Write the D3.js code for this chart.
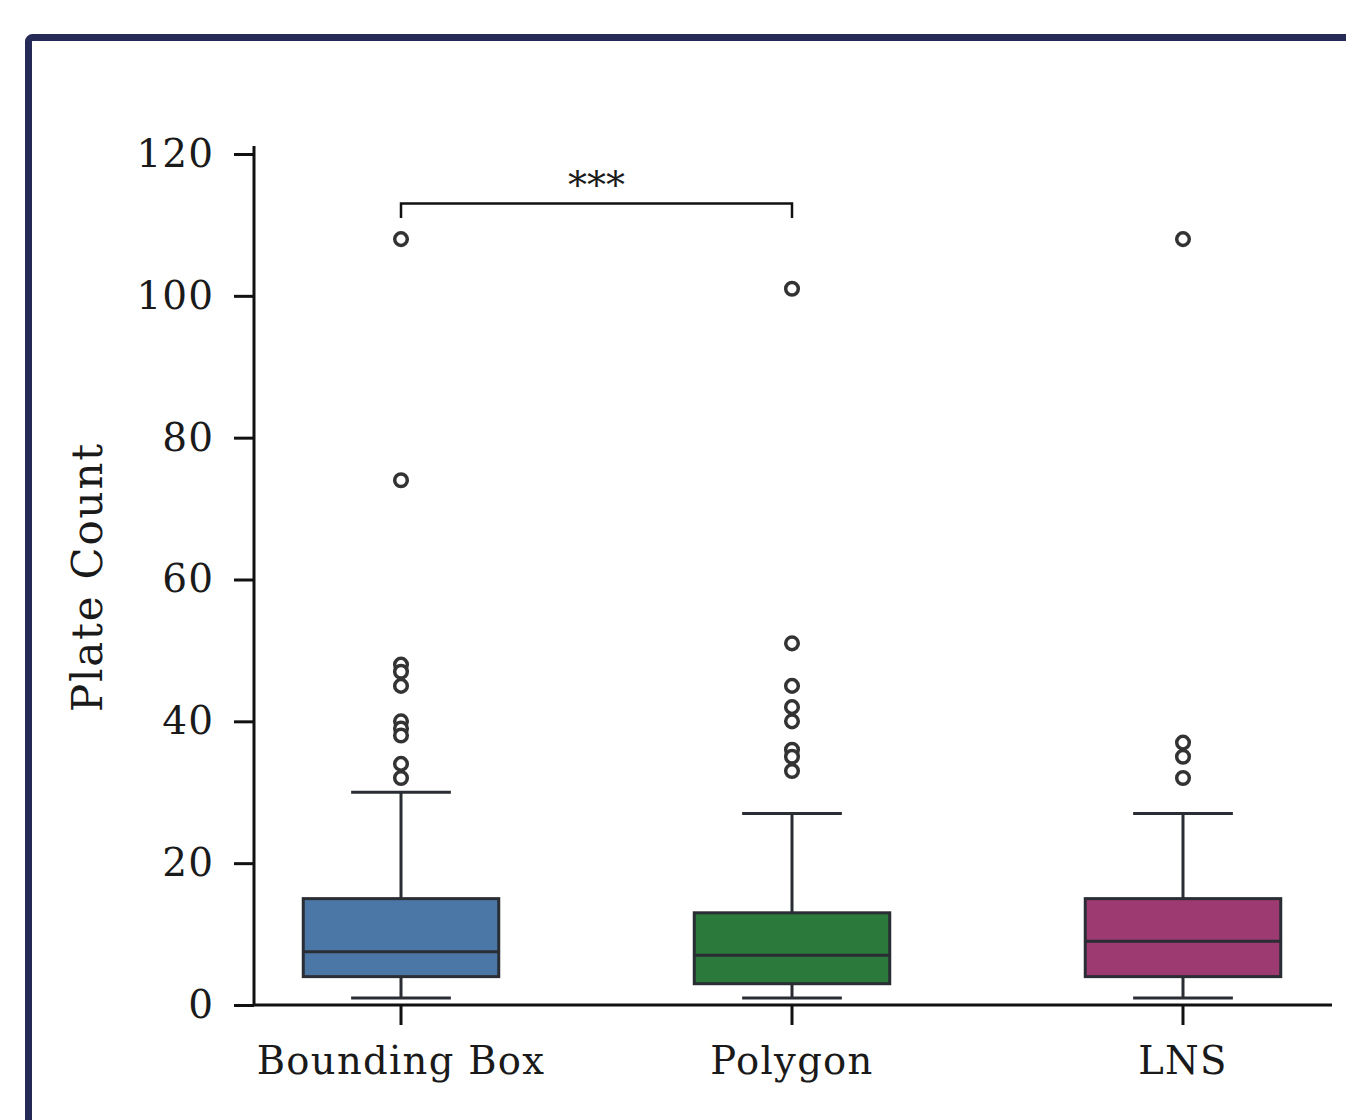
<!DOCTYPE html>
<html>
<head>
<meta charset="utf-8">
<script src="https://cdn.jsdelivr.net/npm/d3@7"></script>
<style>
  body { margin: 0; background: #fff; }
  svg { display: block; }
  text { font-family: "DejaVu Serif", serif; fill: #1a1a1a; }
</style>
</head>
<body>
<svg width="1346" height="1120"></svg>
<script>
var categories = ["Bounding Box", "Polygon", "LNS"];
var colors = ["#4b77a6", "#2b7a3b", "#9c3a71"];
var q1 = [4, 3, 4];
var median = [7.5, 7, 9];
var q3 = [15, 13, 15];
var whiskerLow = [1, 1, 1];
var whiskerHigh = [30, 27, 27];
var outliers = [
    [108, 74, 48, 47, 45, 40, 39, 38, 34, 32],
    [101, 51, 45, 42, 40, 36, 35, 33],
    [108, 37, 35, 32]
];
var yTicks = [0, 20, 40, 60, 80, 100, 120];

var svg = d3.select("svg"),
    width = +svg.attr("width"),
    height = +svg.attr("height");

// outer frame
svg.append("rect")
    .attr("x", 28.5).attr("y", 37.5)
    .attr("width", 1400).attr("height", 1200)
    .attr("rx", 4)
    .attr("fill", "none")
    .attr("stroke", "#262a56")
    .attr("stroke-width", 7);

var y = d3.scaleLinear().domain([0, 120]).range([1005, 154]);
var x = d3.scaleBand().domain(categories).range([205.5, 1378.5]);
var boxW = x.bandwidth() * 0.5;
var capW = boxW / 2;

var ink = "#2a2d33";

// y axis
var yAxis = svg.append("g")
    .attr("transform", "translate(254,0)")
    .call(d3.axisLeft(y).tickValues(yTicks).tickSize(20).tickPadding(20).tickSizeOuter(0));
yAxis.select(".domain").attr("stroke", "#111").attr("stroke-width", 3)
    .attr("d", "M0," + y(0) + "V" + (y(120) - 8));
yAxis.selectAll(".tick line").attr("stroke", "#111").attr("stroke-width", 3);
yAxis.selectAll(".tick text").style("font-family", "DejaVu Serif").style("font-size", "39px")
    .style("letter-spacing", "1px").attr("fill", "#222");

// x axis
var xAxis = svg.append("g")
    .attr("transform", "translate(0," + y(0) + ")")
    .call(d3.axisBottom(x).tickSize(20).tickPadding(22).tickSizeOuter(0));
xAxis.select(".domain").remove();
xAxis.append("line").attr("x1", 254).attr("x2", 1332)
    .attr("stroke", "#111").attr("stroke-width", 3);
xAxis.selectAll(".tick line").attr("stroke", "#111").attr("stroke-width", 3);
xAxis.selectAll(".tick text").style("font-family", "DejaVu Serif").style("font-size", "38.5px")
    .style("letter-spacing", "1.3px").attr("fill", "#222");

// y label
svg.append("text")
    .attr("transform", "translate(102,577) rotate(-90)")
    .attr("text-anchor", "middle")
    .style("font-size", "42px")
    .style("letter-spacing", "1.8px")
    .attr("fill", "#222")
    .text("Plate Count");

// boxes
var g = svg.append("g");
categories.forEach(function (c, i) {
    var cx = x(c) + x.bandwidth() / 2;
    // whiskers
    g.append("line").attr("x1", cx).attr("x2", cx)
        .attr("y1", y(q3[i])).attr("y2", y(whiskerHigh[i]))
        .attr("stroke", ink).attr("stroke-width", 3);
    g.append("line").attr("x1", cx).attr("x2", cx)
        .attr("y1", y(q1[i])).attr("y2", y(whiskerLow[i]))
        .attr("stroke", ink).attr("stroke-width", 3);
    [whiskerLow[i], whiskerHigh[i]].forEach(function (v) {
        g.append("line").attr("x1", cx - capW / 2 - 1).attr("x2", cx + capW / 2 + 1)
            .attr("y1", y(v)).attr("y2", y(v))
            .attr("stroke", ink).attr("stroke-width", 3);
    });
    // box
    g.append("rect")
        .attr("x", cx - boxW / 2).attr("width", boxW)
        .attr("y", y(q3[i])).attr("height", y(q1[i]) - y(q3[i]))
        .attr("fill", colors[i])
        .attr("stroke", ink).attr("stroke-width", 3);
    g.append("line").attr("x1", cx - boxW / 2).attr("x2", cx + boxW / 2)
        .attr("y1", y(median[i])).attr("y2", y(median[i]))
        .attr("stroke", ink).attr("stroke-width", 3);
    // outliers
    g.selectAll(null).data(outliers[i]).enter().append("circle")
        .attr("cx", cx).attr("cy", function (d) { return y(d); })
        .attr("r", 6.3)
        .attr("fill", "#fff")
        .attr("stroke", "#333").attr("stroke-width", 3.5);
});

// significance bracket
var bx1 = x(categories[0]) + x.bandwidth() / 2,
    bx2 = x(categories[1]) + x.bandwidth() / 2;
svg.append("path")
    .attr("d", "M" + bx1 + ",218V203.5H" + bx2 + "V218")
    .attr("fill", "none").attr("stroke", "#111").attr("stroke-width", 2.5);
svg.append("text")
    .attr("x", (bx1 + bx2) / 2).attr("y", 198)
    .attr("text-anchor", "middle")
    .style("font-size", "38px")
    .attr("fill", "#333")
    .text("***");
</script>
</body>
</html>
